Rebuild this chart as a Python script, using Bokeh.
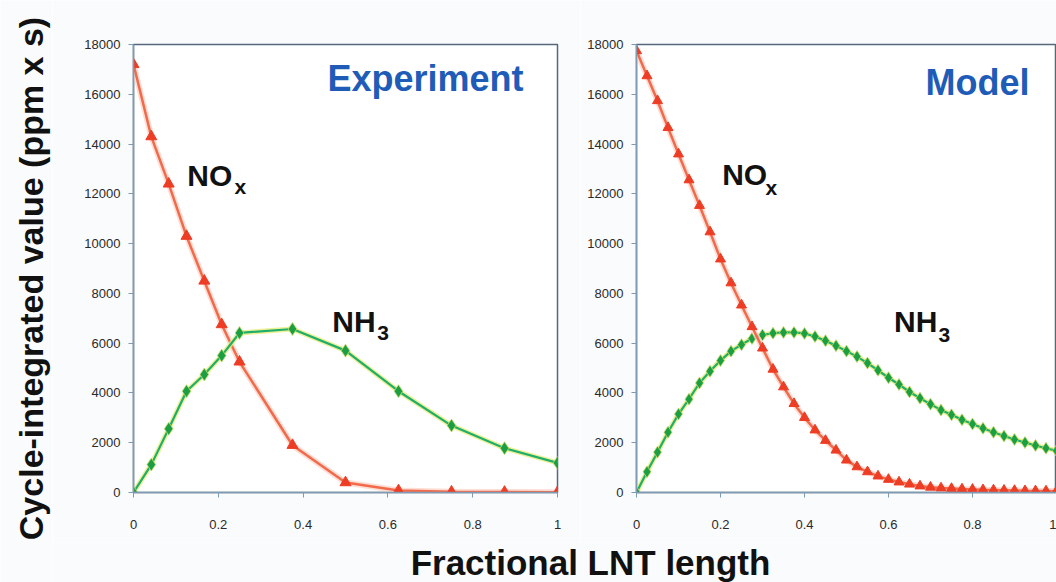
from math import pi

from bokeh.embed import file_html
from bokeh.layouts import column, row
from bokeh.models import FixedTicker, Label, NumeralTickFormatter, Range1d
from bokeh.plotting import figure
from bokeh.resources import INLINE

# ---------------------------------------------------------------- data
x_ticks = [0, 0.2, 0.4, 0.6, 0.8, 1.0]
y_ticks = [0, 2000, 4000, 6000, 8000, 10000, 12000, 14000, 16000, 18000]

# Experiment: fractional position along the LNT
exp_x = [0, 0.042, 0.083, 0.125, 0.167, 0.208, 0.25, 0.375, 0.5, 0.625, 0.75, 0.875, 1.0]
exp_nox = [17200, 14300, 12400, 10300, 8500, 6750, 5250, 1900, 400, 80, 30, 20, 10]
exp_nh3 = [0, 1120, 2560, 4070, 4740, 5500, 6410, 6570, 5700, 4070, 2690, 1780, 1190]

# Model: axial grid of the simulated monolith
mod_x = [0.0, 0.025, 0.05, 0.075, 0.1, 0.125, 0.15, 0.175, 0.2, 0.225,
         0.25, 0.275, 0.3, 0.325, 0.35, 0.375, 0.4, 0.425, 0.45, 0.475,
         0.5, 0.525, 0.55, 0.575, 0.6, 0.625, 0.65, 0.675, 0.7, 0.725,
         0.75, 0.775, 0.8, 0.825, 0.85, 0.875, 0.9, 0.925, 0.95, 0.975, 1.0]
mod_nox = [17750, 16740, 15740, 14660, 13600, 12560, 11530, 10470, 9380, 8420,
           7530, 6660, 5800, 4950, 4240, 3570, 3010, 2510, 2090, 1700,
           1300, 1030, 830, 660, 525, 420, 335, 260, 210, 180,
           160, 140, 125, 110, 100, 90, 80, 70, 65, 60, 55]
mod_nh3 = [0, 830, 1620, 2420, 3150, 3750, 4400, 4870, 5300, 5680,
           5940, 6190, 6330, 6400, 6430, 6430, 6390, 6270, 6100, 5900,
           5680, 5460, 5200, 4910, 4610, 4340, 4040, 3790, 3550, 3310,
           3120, 2920, 2750, 2580, 2420, 2270, 2130, 2010, 1890, 1780, 1680]

# ---------------------------------------------------------------- style
PAGE_BG = "#fafbfd"
AXIS_COL = "#7f9ab3"
FRAME_COL = "#56687a"
RED = "#ee3d25"
RED_LINE = "#f26a4c"
RED_HALO = "#fbd0c2"
GREEN = "#1c9f42"
GREEN_LINE = "#1fae6c"
GREEN_HALO = "#eaec7a"
TITLE_BLUE = "#1f5cb8"
FONT = "Liberation Sans"


def make_panel(width, border_left, border_right, border_top, border_bottom):
    p = figure(width=width, height=542,
               x_range=Range1d(0, 1), y_range=Range1d(0, 18000),
               output_backend="svg", toolbar_location=None,
               min_border_left=border_left, min_border_right=border_right,
               min_border_top=border_top, min_border_bottom=border_bottom,
               background_fill_color="white", border_fill_color=PAGE_BG)
    p.grid.visible = False
    p.outline_line_color = FRAME_COL
    p.outline_line_width = 1.5
    p.xaxis.ticker = FixedTicker(ticks=x_ticks)
    p.yaxis.ticker = FixedTicker(ticks=y_ticks)
    p.xaxis.formatter = NumeralTickFormatter(format="0.[0]")
    for ax in (p.xaxis, p.yaxis):
        ax.axis_line_color = AXIS_COL
        ax.axis_line_width = 1.5
        ax.major_tick_line_color = AXIS_COL
        ax.major_tick_in = 0
        ax.major_tick_out = 5
        ax.minor_tick_in = 0
        ax.minor_tick_out = 0
        ax.major_label_text_font = FONT
        ax.major_label_text_font_size = "13px"
        ax.major_label_text_color = "#2a2a2a"
    p.xaxis.major_label_standoff = 22
    p.yaxis.major_label_standoff = 8
    return p


def nox_series(p, xs, ys, size):
    p.line(xs, ys, line_color=RED_HALO, line_width=6, line_alpha=0.7)
    p.line(xs, ys, line_color=RED_LINE, line_width=2.5)
    p.scatter(xs, ys, marker="triangle", size=size,
              fill_color=RED, line_color=RED)


def nh3_series(p, xs, ys, size):
    p.line(xs, ys, line_color=GREEN_HALO, line_width=5, line_alpha=0.8)
    p.line(xs, ys, line_color=GREEN_LINE, line_width=2.2)
    p.scatter(xs, ys, marker="diamond", size=size,
              fill_color=GREEN, line_color="#c9dc6a", line_width=0.8)


def species_label(p, main, sub, x, y, sub_x, sub_y):
    p.add_layout(Label(x=x, y=y, text=main, text_font=FONT,
                       text_font_style="bold", text_font_size="30px",
                       text_color="#111111", text_baseline="middle"))
    p.add_layout(Label(x=sub_x, y=sub_y, text=sub, text_font=FONT,
                       text_font_style="bold", text_font_size="21px",
                       text_color="#111111", text_baseline="middle"))


def title_label(p, text, x, y):
    p.add_layout(Label(x=x, y=y, text=text, text_font=FONT,
                       text_font_style="bold", text_font_size="36px",
                       text_color=TITLE_BLUE, text_baseline="middle"))


# ---------------------------------------------------------------- experiment panel
left = make_panel(528, 81, 23, 44, 50)
nox_series(left, exp_x, exp_nox, 11)
nh3_series(left, exp_x, exp_nh3, 13)
title_label(left, "Experiment", 0.4575, 16650)
species_label(left, "NO", "x", 0.127, 12740, 0.238, 12310)
species_label(left, "NH", "3", 0.469, 6870, 0.575, 6410)

# ---------------------------------------------------------------- model panel
right = make_panel(476, 56, 0, 40, 49)
nh3_series(right, mod_x, mod_nh3, 12)
nox_series(right, mod_x, mod_nox, 10)
title_label(right, "Model", 0.688, 16470)
species_label(right, "NO", "x", 0.204, 12760, 0.307, 12270)
species_label(right, "NH", "3", 0.613, 6860, 0.719, 6340)


# ---------------------------------------------------------------- shared axis titles
def text_strip(width, height):
    s = figure(width=width, height=height,
               x_range=Range1d(0, width), y_range=Range1d(0, height),
               x_axis_type=None, y_axis_type=None,
               output_backend="svg", toolbar_location=None,
               min_border=0, outline_line_color=None,
               background_fill_color=PAGE_BG, border_fill_color=PAGE_BG)
    s.grid.visible = False
    return s


ylab = text_strip(52, 582)
ylab.add_layout(Label(x=30, y=304, text="Cycle-integrated value (ppm x s)",
                      angle=pi / 2, text_align="center", text_baseline="middle",
                      text_font=FONT, text_font_style="bold",
                      text_font_size="34px", text_color="#111111"))

xlab = text_strip(1004, 40)
xlab.add_layout(Label(x=538, y=20, text="Fractional LNT length",
                      text_align="center", text_baseline="middle",
                      text_font=FONT, text_font_style="bold",
                      text_font_size="35px", text_color="#111111"))

layout = row(ylab, column(row(left, right), xlab))

with open("out.html", "w") as f:
    f.write(file_html(layout, INLINE))
